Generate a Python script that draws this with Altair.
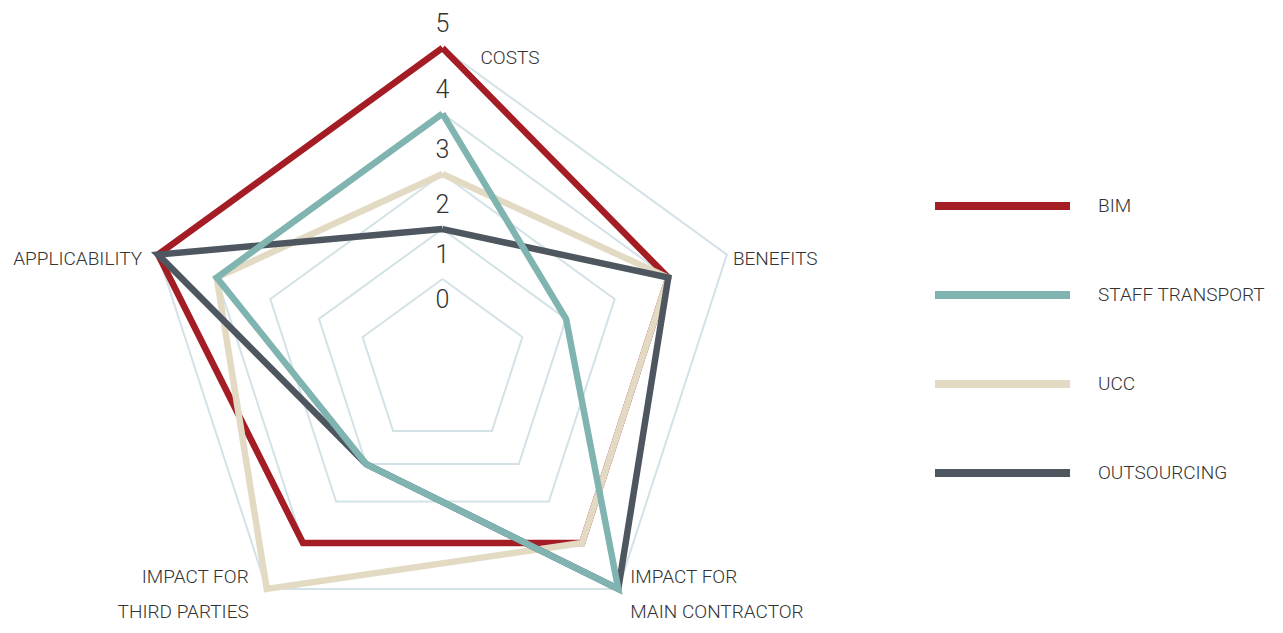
import altair as alt
import pandas as pd

# ---- data -------------------------------------------------------------
categories = ["COSTS", "BENEFITS", "IMPACT FOR\nMAIN CONTRACTOR",
              "IMPACT FOR\nTHIRD PARTIES", "APPLICABILITY"]
series = ["BIM", "STAFF TRANSPORT", "UCC", "OUTSOURCING"]
bim = [5, 4, 4, 4, 5]
staff_transport = [4, 2, 5, 2, 4]
ucc = [3, 4, 4, 5, 4]
outsourcing = [2, 4, 5, 2, 5]
grid_levels = [1, 2, 3, 4, 5]
tick_labels = [0, 1, 2, 3, 4, 5]

# ---- styling / layout ------------------------------------------------
colors = ["#A51D24", "#80B4B1", "#E3DAC4", "#4E5760"]
grid_color = "#D3E2E7"
text_color = "#333333"
font = "Roboto"
W, H = 1267, 617
CX, CY = 434.5, 355
N = len(categories)

values = dict(zip(series, [bim, staff_transport, ucc, outsourcing]))
color_of = dict(zip(series, colors))

rows = []
for s in series:
    for k in range(N + 1):
        rows.append({"series": s, "k": k, "v": values[s][k % N]})
df = pd.DataFrame(rows)

grid_rows = [{"level": lv, "k": k, "v": lv} for lv in grid_levels for k in range(N + 1)]
grid_df = pd.DataFrame(grid_rows)

tick_df = pd.DataFrame({"v": tick_labels, "k": [0] * len(tick_labels)})
cat_df = pd.DataFrame({"label": categories, "k": list(range(N)), "v": [max(grid_levels)] * N})
legend_df = pd.DataFrame({"series": series})


def geo(ch):
    return (ch.transform_calculate(r="43.4 + 38*datum.v + 2.625*datum.v*datum.v")
              .transform_calculate(ang=f"datum.k*2*PI/{N}")
              .transform_calculate(cy=f"{CY} - 4*(datum.v-1)")
              .transform_calculate(px=f"{CX} + datum.r*sin(datum.ang)")
              .transform_calculate(py="datum.cy - datum.r*cos(datum.ang)"))


X = alt.X("px:Q", scale=alt.Scale(domain=[0, W], nice=False, zero=False), axis=None)
Y = alt.Y("py:Q", scale=alt.Scale(domain=[0, H], nice=False, zero=False, reverse=True), axis=None)

layers = []

grid = geo(alt.Chart(grid_df)).mark_line(
    color=grid_color, strokeWidth=2, strokeJoin="miter"
).encode(x=X, y=Y, detail="level:N", order="k:Q")
layers.append(grid)

for s in ["BIM", "UCC", "OUTSOURCING", "STAFF TRANSPORT"]:
    ln = geo(alt.Chart(df).transform_filter(alt.datum.series == s)).mark_line(
        color=color_of[s], strokeWidth=6.5, strokeJoin="miter", strokeMiterLimit=10
    ).encode(x=X, y=Y, order="k:Q")
    layers.append(ln)

ticks = geo(alt.Chart(tick_df)).mark_text(
    dy=-24, font=font, fontSize=25, fontWeight=300, color=text_color, baseline="middle"
).encode(x=X, y=Y, text="v:Q")
layers.append(ticks)

label_style = {
    0: dict(align="left", dx=38, dy=10, baseline="middle"),
    1: dict(align="left", dx=6, dy=4, baseline="middle"),
    2: dict(align="left", dx=12, dy=-12, baseline="middle"),
    3: dict(align="right", dx=-18, dy=-12, baseline="middle"),
    4: dict(align="right", dx=-16, dy=4, baseline="middle"),
}
for k, st in label_style.items():
    t = geo(alt.Chart(cat_df).transform_filter(alt.datum.k == k)).mark_text(
        font=font, fontSize=19, fontWeight=300, color=text_color,
        lineBreak="\n", lineHeight=35, **st
    ).encode(x=X, y=Y, text="label:N")
    layers.append(t)

LY = alt.Y("series:N", sort=series,
           scale=alt.Scale(type="point", range=[198, 465], padding=0), axis=None)
leg_rule = alt.Chart(legend_df).mark_rule(strokeWidth=8, strokeCap="butt").encode(
    x=alt.value(927), x2=alt.value(1062), y=LY,
    color=alt.Color("series:N", scale=alt.Scale(domain=series, range=colors), legend=None),
)
leg_text = alt.Chart(legend_df).mark_text(
    align="left", baseline="middle", font=font, fontSize=19, fontWeight=300, color=text_color
).encode(x=alt.value(1090), y=LY, text="series:N")
layers += [leg_rule, leg_text]

chart = alt.layer(*layers).resolve_scale(x="independent", y="independent").properties(
    width=W, height=H, padding=0, autosize=alt.AutoSizeParams(type="none")
).configure_view(stroke=None)

chart.save("out.html", embed_options={"renderer": "svg", "actions": False})
